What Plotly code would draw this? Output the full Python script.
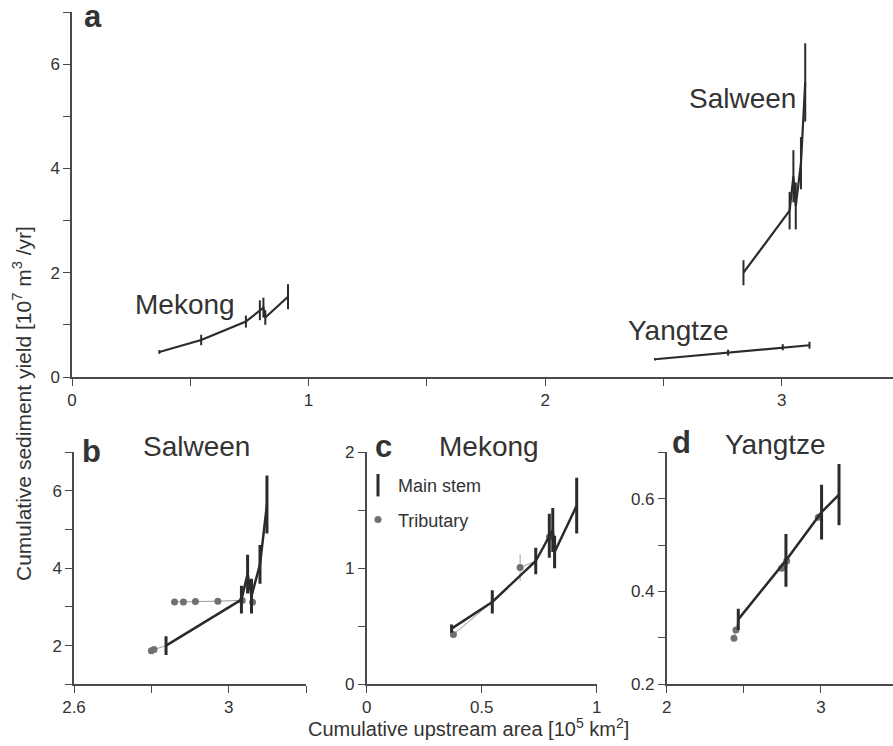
import plotly.graph_objects as go

# ---------------- data ----------------
# Main stems: cumulative upstream area [1e5 km2], sediment yield [1e7 m3/yr], error
sal_x = [2.838, 3.033, 3.049, 3.059, 3.081, 3.099]
sal_y = [2.00, 3.19, 3.85, 3.28, 4.10, 5.65]
sal_e = [0.24, 0.36, 0.50, 0.45, 0.50, 0.75]

mek_x = [0.369, 0.546, 0.735, 0.794, 0.809, 0.817, 0.913]
mek_y = [0.48, 0.71, 1.063, 1.28, 1.33, 1.14, 1.54]
mek_e = [0.035, 0.10, 0.115, 0.19, 0.19, 0.14, 0.24]

yan_x = [2.464, 2.773, 3.004, 3.117]
yan_y = [0.340, 0.467, 0.571, 0.609]
yan_e = [0.023, 0.057, 0.059, 0.066]

# Tributary points
sal_tx = [2.800, 2.807, 2.860, 2.883, 2.914, 2.972, 3.035, 3.062]
sal_ty = [1.87, 1.90, 3.13, 3.13, 3.14, 3.15, 3.17, 3.12]
sal_te = [0.02, 0.02, 0.02, 0.02, 0.02, 0.02, 0.02, 0.02]

mek_tx = [0.377, 0.667, 0.794]
mek_ty = [0.43, 1.006, 1.27]
mek_te = [0.02, 0.115, 0.03]

yan_tx = [2.436, 2.449, 2.745, 2.760, 2.778, 2.983]
yan_ty = [0.299, 0.317, 0.450, 0.455, 0.466, 0.560]
yan_te = [0.003, 0.004, 0.005, 0.005, 0.005, 0.005]

# Tributary branch lines (to the main-stem confluence), None separates branches
sal_bx = [2.800, 2.807, 2.838, None, 2.860, 2.883, 2.914, 2.972, 3.035]
sal_by = [1.87, 1.90, 2.00, None, 3.13, 3.13, 3.14, 3.15, 3.17]
mek_bx = [0.377, 0.546, None, 0.667, 0.735]
mek_by = [0.43, 0.71, None, 1.006, 1.063]
yan_bx = [2.436, 2.449, 2.464, None, 2.745, 2.778]
yan_by = [0.299, 0.317, 0.340, None, 0.450, 0.466]

# Axis ticks
a_xt = [0, 0.5, 1, 1.5, 2, 2.5, 3]
a_xl = ['0', '', '1', '', '2', '', '3']
a_yt = [0, 1, 2, 3, 4, 5, 6, 7]
a_yl = ['0', '', '2', '', '4', '', '6', '']
b_xt = [2.6, 2.8, 3.0, 3.2]
b_xl = ['2.6', '', '3', '']
b_yt = [1, 2, 3, 4, 5, 6, 7]
b_yl = ['', '2', '', '4', '', '6', '']
c_xt = [0, 0.5, 1]
c_xl = ['0', '0.5', '1']
c_yt = [0, 0.5, 1, 1.5, 2]
c_yl = ['0', '', '1', '', '2']
d_xt = [2, 2.5, 3]
d_xl = ['2', '', '3']
d_yt = [0.2, 0.3, 0.4, 0.5, 0.6, 0.7]
d_yl = ['0.2', '', '0.4', '', '0.6', '']

# ---------------- styling ----------------
W, H = 893, 746
MAIN = '#2b2b2b'
TRIB = '#707070'
TXT = '#333333'
FONT = 'Liberation Sans'

def px_x(p):
    return p / W

def px_y(p):
    return 1 - p / H

fig = go.Figure()

def main_trace(x, y, e, xa, ya, lw, ew):
    fig.add_trace(go.Scatter(
        x=x, y=y, mode='lines', xaxis=xa, yaxis=ya, showlegend=False,
        line=dict(color=MAIN, width=lw),
        error_y=dict(type='data', array=e, visible=True, color=MAIN,
                     thickness=ew, width=0)))

def trib_traces(bx, by, tx, ty, te, xa, ya):
    fig.add_trace(go.Scatter(
        x=bx, y=by, mode='lines', xaxis=xa, yaxis=ya, showlegend=False,
        line=dict(color='#9a9a9a', width=1)))
    fig.add_trace(go.Scatter(
        x=tx, y=ty, mode='markers', xaxis=xa, yaxis=ya, showlegend=False,
        marker=dict(color=TRIB, size=7),
        error_y=dict(type='data', array=te, visible=True, color='#a0a0a0',
                     thickness=1, width=0)))

# panel a
main_trace(mek_x, mek_y, mek_e, 'x', 'y', 2.2, 2)
main_trace(sal_x, sal_y, sal_e, 'x', 'y', 2.2, 2)
main_trace(yan_x, yan_y, yan_e, 'x', 'y', 2.2, 2)

# panel b
trib_traces(sal_bx, sal_by, sal_tx, sal_ty, sal_te, 'x2', 'y2')
main_trace(sal_x, sal_y, sal_e, 'x2', 'y2', 2.5, 3)
# panel c
trib_traces(mek_bx, mek_by, mek_tx, mek_ty, mek_te, 'x3', 'y3')
main_trace(mek_x, mek_y, mek_e, 'x3', 'y3', 2.5, 3)
# panel d
trib_traces(yan_bx, yan_by, yan_tx, yan_ty, yan_te, 'x4', 'y4')
main_trace(yan_x, yan_y, yan_e, 'x4', 'y4', 2.5, 3)

# legend entries
fig.add_trace(go.Scatter(x=[None], y=[None], mode='markers', name='Main stem',
                         xaxis='x3', yaxis='y3', legendgroup='m',
                         marker=dict(symbol='line-ns', size=20,
                                     line=dict(width=3, color=MAIN))))
fig.add_trace(go.Scatter(x=[None], y=[None], mode='markers', name='Tributary',
                         xaxis='x3', yaxis='y3', legendgroup='t',
                         marker=dict(symbol='circle', size=7, color=TRIB)))

def ax(domain, rng, tv, tl, anchor):
    return dict(domain=domain, range=rng, tickvals=tv, ticktext=tl,
                anchor=anchor, showgrid=False, zeroline=False,
                automargin=False,
                showline=True, linecolor='#4a4a4a', linewidth=1.5,
                ticks='outside', ticklen=7, tickwidth=1.3, tickcolor='#4a4a4a',
                tickfont=dict(family=FONT, size=17, color=TXT))

ydom_top = [px_y(377), px_y(12)]
ydom_bot = [px_y(684.3), px_y(452.3)]

fig.update_layout(
    width=W, height=H,
    margin=dict(l=0, r=0, t=0, b=0, autoexpand=False),
    paper_bgcolor='white', plot_bgcolor='white',
    font=dict(family=FONT, color=TXT),
    xaxis=ax([px_x(72), 1.0], [0, 3.47], a_xt, a_xl, 'y'),
    yaxis=ax(ydom_top, [0, 7], a_yt, a_yl, 'x'),
    xaxis2=ax([px_x(74), px_x(306)], [2.6, 3.2], b_xt, b_xl, 'y2'),
    yaxis2=ax(ydom_bot, [1, 7], b_yt, b_yl, 'x2'),
    xaxis3=ax([px_x(366.7), px_x(596.7)], [0, 1], c_xt, c_xl, 'y3'),
    yaxis3=ax(ydom_bot, [0, 2], c_yt, c_yl, 'x3'),
    xaxis4=ax([px_x(666.7), 1.0], [2, 3.467], d_xt, d_xl, 'y4'),
    yaxis4=ax(ydom_bot, [0.2, 0.7], d_yt, d_yl, 'x4'),
    showlegend=True,
    legend=dict(x=px_x(358), y=px_y(467), xanchor='left', yanchor='top',
                bgcolor='rgba(0,0,0,0)', tracegroupgap=8,
                font=dict(family=FONT, size=18, color=TXT)),
)

annos = []
def txt(s, x, y, size, bold=False, xref='paper', yref='paper'):
    annos.append(dict(text=f'<b>{s}</b>' if bold else s, x=x, y=y,
                      xref=xref, yref=yref, showarrow=False,
                      xanchor='center', yanchor='middle',
                      font=dict(family=FONT, size=size, color=TXT)))

# panel letters
txt('a', px_x(93), px_y(16), 31, True)
txt('b', px_x(91), px_y(452), 31, True)
txt('c', px_x(383), px_y(447), 31, True)
txt('d', px_x(681), px_y(443), 31, True)
# panel titles
txt('Salween', px_x(196), px_y(447), 28)
txt('Mekong', px_x(489), px_y(447), 28)
txt('Yangtze', px_x(775), px_y(445), 28)
# river labels in panel a (data coordinates)
txt('Salween', 2.835, 5.35, 28, xref='x', yref='y')
txt('Mekong', 0.478, 1.4, 28, xref='x', yref='y')
txt('Yangtze', 2.565, 0.9, 28, xref='x', yref='y')
# axis titles
annos.append(dict(text='Cumulative upstream area [10<sup>5</sup> km<sup>2</sup>]',
                  x=px_x(468), y=px_y(727), xref='paper', yref='paper',
                  showarrow=False, xanchor='center', yanchor='middle',
                  font=dict(family=FONT, size=20, color=TXT)))
annos.append(dict(text='Cumulative sediment yield [10<sup>7</sup> m<sup>3</sup> /yr]',
                  x=px_x(22), y=px_y(404), xref='paper', yref='paper',
                  showarrow=False, xanchor='center', yanchor='middle',
                  textangle=-90,
                  font=dict(family=FONT, size=21, color=TXT)))
fig.update_layout(annotations=annos)

fig.write_html('out.html',
               config={'displayModeBar': False},
               post_script="document.body.style.margin='0';"
                           "document.body.style.padding='0';")
